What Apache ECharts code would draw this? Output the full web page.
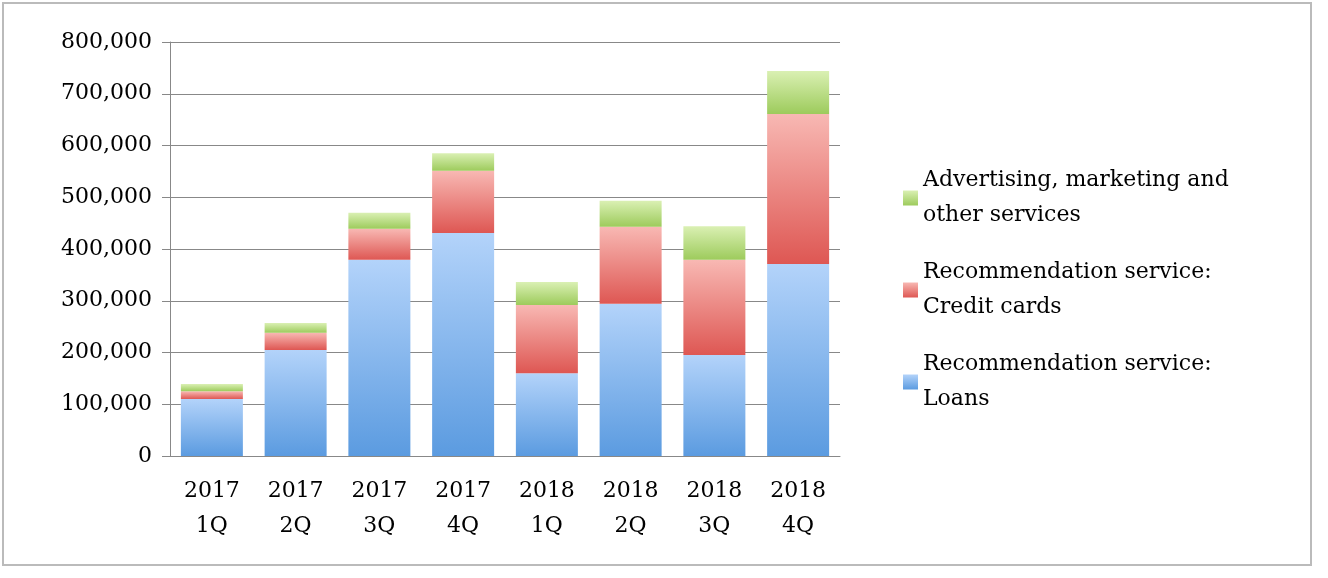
<!DOCTYPE html><html><head><meta charset="utf-8"><script src="https://cdn.jsdelivr.net/npm/echarts@6/dist/echarts.min.js"></script>
<style>body{margin:0}#c{width:1328px;height:578px}#b{position:absolute;left:2px;top:2px;width:1310px;height:564px;border:2px solid #bbb;box-sizing:border-box}</style></head><body><div id="b"></div><div id="c"></div><script>
const categories=['2017\n1Q','2017\n2Q','2017\n3Q','2017\n4Q','2018\n1Q','2018\n2Q','2018\n3Q','2018\n4Q'];
const loans=[110000,205000,379000,431000,160000,294000,195000,371000];
const cards=[15000,33000,60000,120000,132000,149000,184000,290000];
const adv=[14000,19000,31000,34000,44000,50000,65000,83000];
const names=['Recommendation service:\nLoans','Recommendation service:\nCredit cards','Advertising, marketing and\nother services'];
const g=(t,b)=>new echarts.graphic.LinearGradient(0,0,0,1,[{offset:0,color:t},{offset:1,color:b}]);
const cols=[g('#b3d3fa','#5b9be0'),g('#f8b8b3','#de5753'),g('#daf0b3','#9dcb5c')];
const font='DejaVu Serif';
const chart=echarts.init(document.getElementById('c'));
chart.setOption({
animation:false,
textStyle:{fontFamily:font},
grid:{left:170,right:488,top:42,bottom:122},
xAxis:{type:'category',data:categories,axisLine:{lineStyle:{color:'#888'}},axisTick:{length:9,lineStyle:{color:'#888'}},
axisLabel:{color:'#000',fontSize:22,fontFamily:font,lineHeight:35,margin:18}},
yAxis:{type:'value',min:0,max:800000,interval:100000,axisLine:{show:true,lineStyle:{color:'#888'}},axisTick:{show:true,length:8,lineStyle:{color:'#888'}},
splitLine:{lineStyle:{color:'#888'}},axisLabel:{color:'#000',fontSize:22,fontFamily:font,margin:18,formatter:v=>v.toLocaleString('en-US')}},
legend:{orient:'vertical',left:898,top:158,itemWidth:15,itemHeight:15,itemGap:22,data:[names[2],names[1],names[0]],
textStyle:{fontSize:22,fontFamily:font,color:'#000',lineHeight:35},icon:'rect'},
series:[loans,cards,adv].map((d,i)=>({name:names[i],type:'bar',stack:'a',data:d,barWidth:62,itemStyle:{color:cols[i]}}))
});
</script></body></html>
